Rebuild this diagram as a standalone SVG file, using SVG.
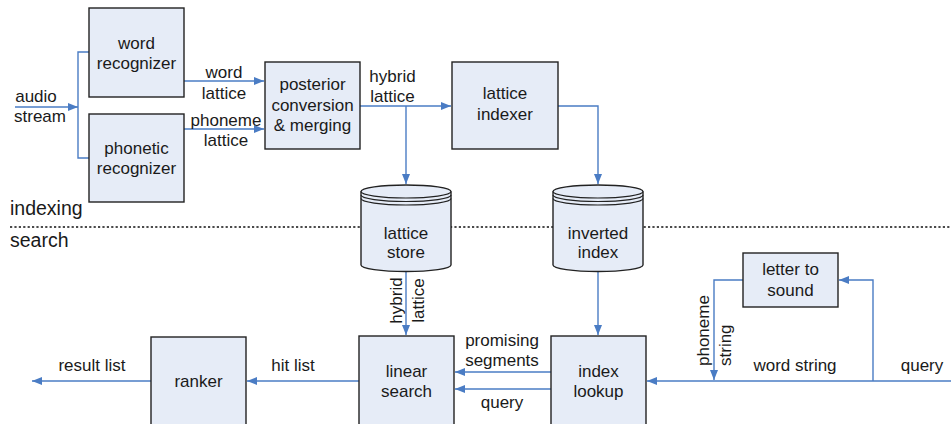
<svg xmlns="http://www.w3.org/2000/svg" width="951" height="424" viewBox="0 0 951 424">
<defs>
<marker id="ah" viewBox="0 0 10 8" refX="10" refY="4" markerWidth="10" markerHeight="8" markerUnits="userSpaceOnUse" orient="auto">
<path d="M0,0 L10,4 L0,8 Z" fill="#4a7cc4"/>
</marker>
<style>
.box{fill:#e6ecf7;stroke:#222;stroke-width:1.4}
.cyl{fill:#e6ecf7;stroke:#222;stroke-width:1.4}
.cl{fill:none;stroke:#222;stroke-width:1.2}
text{font-family:"Liberation Sans",Arial,sans-serif;font-size:17px;fill:#1a1a1a}
.c{text-anchor:middle}
.big{font-size:19.5px}
.con{fill:none;stroke:#4a7cc4;stroke-width:1.4}
.arr{marker-end:url(#ah)}
.dash{stroke:#111;stroke-width:1.3;stroke-dasharray:2.2,2.2;fill:none}
</style>
</defs>
<rect width="951" height="424" fill="#fff"/>
<path class="dash" d="M10,227 H951"/>
<text class="big" x="10" y="215">indexing</text>
<text class="big" x="10" y="247">search</text>
<g id="connectors">
<path class="con arr" d="M15,107 H78"/>
<path class="con" d="M89,52 H78 V158 H89"/>
<path class="con arr" d="M184,81 H264"/>
<path class="con arr" d="M184,129 H264"/>
<path class="con arr" d="M360,106 H451"/>
<path class="con arr" d="M406,106 V184"/>
<path class="con arr" d="M558,106 H598 V184"/>
<path class="con arr" d="M406,272 V335"/>
<path class="con arr" d="M598,272 V335"/>
<path class="con arr" d="M551,372 H455"/>
<path class="con arr" d="M551,389 H455"/>
<path class="con arr" d="M359,381 H247"/>
<path class="con arr" d="M151,381 H32"/>
<path class="con arr" d="M951,381 H647"/>
<path class="con arr" d="M873,381 V280 H839"/>
<path class="con arr" d="M743,280 H714 V380"/>
<text class="c" x="36" y="101.5">audio</text>
<text class="c" x="40" y="122">stream</text>
<text class="c" x="224" y="78">word</text>
<text class="c" x="224" y="99">lattice</text>
<text class="c" x="226" y="125.5">phoneme</text>
<text class="c" x="226" y="145.5">lattice</text>
<text class="c" x="392.5" y="81.5">hybrid</text>
<text class="c" x="392.5" y="102">lattice</text>
<text class="c" transform="translate(401.5,300.5) rotate(-90)">hybrid</text>
<text class="c" transform="translate(424,300.5) rotate(-90)">lattice</text>
<text class="c" x="502" y="346">promising</text>
<text class="c" x="502" y="365.5">segments</text>
<text class="c" x="502" y="408">query</text>
<text class="c" x="293" y="370.5">hit list</text>
<text class="c" x="92" y="370.5">result list</text>
<text class="c" x="795" y="370.5">word string</text>
<text class="c" x="922" y="370.5">query</text>
<text transform="translate(709,366) rotate(-90)">phoneme</text>
<text transform="translate(731,366) rotate(-90)">string</text>
</g>
<g id="word-recognizer">
<rect class="box" x="89" y="8" width="95" height="89"/>
<text class="c" x="136.5" y="48.5">word</text>
<text class="c" x="136.5" y="68.5">recognizer</text>
</g>
<g id="phonetic-recognizer">
<rect class="box" x="89" y="114" width="95" height="88"/>
<text class="c" x="136.5" y="153.5">phonetic</text>
<text class="c" x="136.5" y="173.5">recognizer</text>
</g>
<g id="posterior">
<rect class="box" x="265" y="62" width="95" height="87"/>
<text class="c" x="312.5" y="90">posterior</text>
<text class="c" x="312.5" y="110.5">conversion</text>
<text class="c" x="312.5" y="131">&amp; merging</text>
</g>
<g id="lattice-indexer">
<rect class="box" x="452" y="62" width="106" height="87"/>
<text class="c" x="505" y="99">lattice</text>
<text class="c" x="505" y="120">indexer</text>
</g>
<g id="lattice-store">
<path class="cyl" d="M361,191.5 V265 A45,6.5 0 0 0 451,265 V191.5 A45,6.5 0 0 0 361,191.5 Z"/>
<path class="cl" d="M361,191.5 A45,6.5 0 0 0 451,191.5 M361,195 A45,6.5 0 0 0 451,195 M361,198.5 A45,6.5 0 0 0 451,198.5"/>
<text class="c" x="406" y="238.5">lattice</text>
<text class="c" x="406" y="258">store</text>
</g>
<g id="inverted-index">
<path class="cyl" d="M553,191.5 V265 A45,6.5 0 0 0 643,265 V191.5 A45,6.5 0 0 0 553,191.5 Z"/>
<path class="cl" d="M553,191.5 A45,6.5 0 0 0 643,191.5 M553,195 A45,6.5 0 0 0 643,195 M553,198.5 A45,6.5 0 0 0 643,198.5"/>
<text class="c" x="598" y="238.5">inverted</text>
<text class="c" x="598" y="258">index</text>
</g>
<g id="letter-to-sound">
<rect class="box" x="743" y="253" width="95" height="54"/>
<text class="c" x="790.5" y="275">letter to</text>
<text class="c" x="790.5" y="295.5">sound</text>
</g>
<g id="ranker">
<rect class="box" x="151" y="337" width="95" height="95"/>
<text class="c" x="198.5" y="387">ranker</text>
</g>
<g id="linear-search">
<rect class="box" x="359" y="336" width="95" height="96"/>
<text class="c" x="406.5" y="377">linear</text>
<text class="c" x="406.5" y="396.5">search</text>
</g>
<g id="index-lookup">
<rect class="box" x="551" y="336" width="95" height="96"/>
<text class="c" x="598.5" y="377">index</text>
<text class="c" x="598.5" y="396.5">lookup</text>
</g>
</svg>
